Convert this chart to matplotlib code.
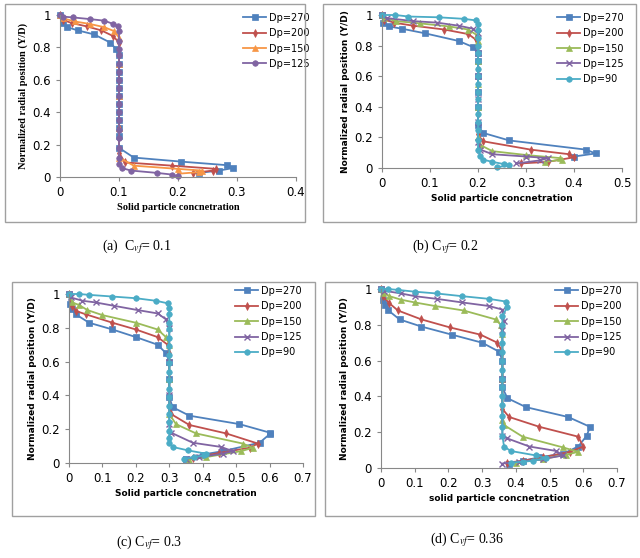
import numpy as np
import matplotlib
matplotlib.use("Agg")
import matplotlib.pyplot as plt
from matplotlib.patches import Rectangle

plt.rcParams["mathtext.fontset"] = "stix"

# Data: (x, y) pairs for each series, per panel
V = [0.75, 0.7, 0.65, 0.6, 0.55, 0.5, 0.45, 0.4, 0.35, 0.3, 0.25, 0.2]

a_270 = [(0,1),(0.005,0.95),(0.012,0.925),(0.03,0.905),(0.058,0.88),(0.085,0.83),(0.095,0.79),(0.1,0.75),(0.1,0.7),(0.1,0.65),(0.1,0.6),(0.1,0.55),(0.1,0.5),(0.1,0.45),(0.1,0.4),(0.1,0.35),(0.1,0.3),(0.1,0.25),(0.1,0.18),(0.125,0.12),(0.205,0.095),(0.283,0.073),(0.293,0.055),(0.27,0.04),(0.235,0.025)]
a_200 = [(0,1),(0.005,0.97),(0.02,0.95),(0.045,0.93),(0.07,0.905),(0.09,0.87),(0.1,0.83),(0.1,0.75),(0.1,0.6),(0.1,0.45),(0.1,0.3),(0.1,0.15),(0.11,0.09),(0.19,0.07),(0.265,0.05),(0.26,0.04),(0.225,0.025)]
a_150 = [(0,1),(0.005,0.98),(0.025,0.96),(0.05,0.945),(0.075,0.925),(0.092,0.9),(0.1,0.86),(0.1,0.7),(0.1,0.5),(0.1,0.3),(0.1,0.12),(0.125,0.07),(0.2,0.05),(0.24,0.04),(0.235,0.03),(0.2,0.02)]
a_125 = [(0,1),(0.005,0.99),(0.022,0.985),(0.05,0.975),(0.075,0.965),(0.09,0.945),(0.098,0.93),(0.1,0.9),(0.1,0.84),(0.1,0.79),(0.1,0.75),(0.1,0.7),(0.1,0.65),(0.1,0.6),(0.1,0.55),(0.1,0.5),(0.1,0.45),(0.1,0.4),(0.1,0.35),(0.1,0.29),(0.1,0.24),(0.1,0.18),(0.1,0.12),(0.1,0.08),(0.105,0.055),(0.12,0.04),(0.165,0.025),(0.19,0.015),(0.2,0.005)]

b_270 = [(0,1),(0.003,0.95),(0.015,0.925),(0.042,0.91),(0.09,0.88),(0.16,0.83),(0.19,0.79),(0.2,0.75),(0.2,0.7),(0.2,0.6),(0.2,0.5),(0.2,0.4),(0.2,0.28),(0.21,0.23),(0.265,0.18),(0.425,0.12),(0.445,0.095),(0.4,0.075)]
b_200 = [(0,1),(0.005,0.97),(0.025,0.95),(0.065,0.93),(0.13,0.905),(0.18,0.875),(0.195,0.84),(0.2,0.8),(0.2,0.65),(0.2,0.5),(0.2,0.35),(0.2,0.22),(0.21,0.175),(0.31,0.12),(0.39,0.09),(0.4,0.07),(0.345,0.04),(0.29,0.03)]
b_150 = [(0,1),(0.005,0.98),(0.03,0.96),(0.08,0.945),(0.14,0.925),(0.18,0.905),(0.197,0.87),(0.2,0.83),(0.2,0.7),(0.2,0.55),(0.2,0.4),(0.2,0.2),(0.205,0.15),(0.23,0.11),(0.3,0.085),(0.37,0.065),(0.375,0.055),(0.34,0.04)]
b_125 = [(0,1),(0.01,0.98),(0.065,0.96),(0.115,0.95),(0.16,0.93),(0.19,0.91),(0.2,0.88),(0.2,0.75),(0.2,0.6),(0.2,0.45),(0.2,0.3),(0.2,0.17),(0.205,0.12),(0.23,0.09),(0.3,0.075),(0.345,0.065),(0.33,0.05),(0.28,0.03)]
b_90 = [(0,1),(0.028,1.0),(0.055,0.99),(0.118,0.985),(0.17,0.975),(0.195,0.965),(0.2,0.94),(0.2,0.9),(0.2,0.85),(0.2,0.8),(0.2,0.75),(0.2,0.7),(0.2,0.65),(0.2,0.6),(0.2,0.55),(0.2,0.5),(0.2,0.45),(0.2,0.4),(0.2,0.35),(0.2,0.3),(0.2,0.25),(0.2,0.18),(0.2,0.12),(0.205,0.08),(0.21,0.055),(0.23,0.04),(0.255,0.025),(0.265,0.018),(0.24,0.005)]

c_270 = [(0,1),(0.003,0.94),(0.01,0.91),(0.02,0.88),(0.06,0.83),(0.13,0.79),(0.2,0.745),(0.265,0.7),(0.29,0.65),(0.3,0.6),(0.3,0.5),(0.3,0.39),(0.31,0.33),(0.36,0.28),(0.51,0.23),(0.6,0.18),(0.6,0.17),(0.57,0.12),(0.46,0.07),(0.4,0.05),(0.35,0.025)]
c_200 = [(0,1),(0.01,0.93),(0.02,0.9),(0.05,0.88),(0.13,0.83),(0.2,0.79),(0.265,0.745),(0.295,0.7),(0.3,0.65),(0.3,0.5),(0.3,0.34),(0.305,0.29),(0.36,0.225),(0.47,0.175),(0.565,0.115),(0.54,0.09),(0.45,0.06),(0.37,0.03)]
c_150 = [(0,1),(0.01,0.95),(0.03,0.935),(0.055,0.905),(0.1,0.875),(0.2,0.83),(0.265,0.79),(0.29,0.745),(0.3,0.7),(0.3,0.5),(0.3,0.29),(0.32,0.23),(0.38,0.175),(0.52,0.115),(0.55,0.09),(0.515,0.07),(0.41,0.035),(0.36,0.02)]
c_125 = [(0,1),(0.005,0.98),(0.04,0.96),(0.08,0.95),(0.135,0.93),(0.205,0.905),(0.265,0.885),(0.29,0.85),(0.3,0.8),(0.3,0.6),(0.3,0.4),(0.3,0.23),(0.305,0.18),(0.37,0.12),(0.455,0.095),(0.49,0.07),(0.46,0.055),(0.39,0.035),(0.35,0.025)]
c_90 = [(0,1),(0.03,1.0),(0.06,0.995),(0.13,0.985),(0.2,0.975),(0.26,0.96),(0.295,0.945),(0.3,0.92),(0.3,0.88),(0.3,0.83),(0.3,0.79),(0.3,0.74),(0.3,0.69),(0.3,0.64),(0.3,0.59),(0.3,0.54),(0.3,0.49),(0.3,0.44),(0.3,0.39),(0.3,0.34),(0.3,0.29),(0.3,0.24),(0.3,0.19),(0.3,0.15),(0.3,0.12),(0.31,0.095),(0.355,0.075),(0.41,0.055),(0.405,0.045),(0.375,0.035),(0.345,0.025)]

d_270 = [(0,1),(0.005,0.94),(0.012,0.91),(0.022,0.88),(0.055,0.83),(0.12,0.79),(0.21,0.745),(0.3,0.7),(0.35,0.65),(0.36,0.6),(0.36,0.5),(0.36,0.45),(0.375,0.39),(0.43,0.34),(0.555,0.285),(0.62,0.23),(0.61,0.18),(0.585,0.12),(0.54,0.08),(0.47,0.06),(0.42,0.04),(0.38,0.025)]
d_200 = [(0,1),(0.005,0.96),(0.025,0.92),(0.05,0.88),(0.12,0.83),(0.205,0.785),(0.295,0.745),(0.345,0.7),(0.36,0.65),(0.36,0.5),(0.36,0.33),(0.38,0.285),(0.47,0.23),(0.585,0.175),(0.6,0.12),(0.56,0.09),(0.48,0.06),(0.42,0.04),(0.375,0.03)]
d_150 = [(0,1),(0.005,0.98),(0.025,0.96),(0.06,0.94),(0.1,0.925),(0.16,0.905),(0.245,0.88),(0.34,0.83),(0.355,0.8),(0.36,0.75),(0.36,0.5),(0.36,0.27),(0.365,0.24),(0.42,0.175),(0.54,0.115),(0.585,0.09),(0.55,0.075),(0.48,0.05),(0.4,0.03)]
d_125 = [(0,1),(0.01,0.99),(0.06,0.975),(0.1,0.96),(0.165,0.945),(0.24,0.925),(0.32,0.905),(0.36,0.885),(0.365,0.82),(0.36,0.77),(0.36,0.5),(0.36,0.18),(0.375,0.165),(0.44,0.12),(0.52,0.095),(0.54,0.07),(0.48,0.05),(0.41,0.035),(0.36,0.025)]
d_90 = [(0,1),(0.02,1.0),(0.05,0.995),(0.1,0.985),(0.165,0.975),(0.24,0.96),(0.32,0.945),(0.37,0.93),(0.375,0.9),(0.36,0.85),(0.36,0.8),(0.36,0.75),(0.36,0.7),(0.36,0.65),(0.36,0.6),(0.36,0.55),(0.36,0.5),(0.36,0.45),(0.36,0.4),(0.36,0.35),(0.36,0.29),(0.36,0.23),(0.36,0.18),(0.365,0.12),(0.385,0.095),(0.46,0.07),(0.49,0.055),(0.45,0.04),(0.42,0.035),(0.385,0.03)]

labels = ["Dp=270", "Dp=200", "Dp=150", "Dp=125", "Dp=90"]
colours = ["#4F81BD", "#C0504D", "#9BBB59", "#8064A2", "#4BACC6"]
markers = ["s", "d", "^", "x", "o"]

W, H = 640, 558
fig = plt.figure(figsize=(W / 100, H / 100), dpi=100)

def px_axes(x0, y0, x1, y1):
    return fig.add_axes([x0 / W, 1 - y1 / H, (x1 - x0) / W, (y1 - y0) / H])

def frame(x0, y0, x1, y1):
    fig.patches.append(Rectangle((x0 / W, 1 - y1 / H), (x1 - x0) / W, (y1 - y0) / H,
                                 transform=fig.transFigure, fill=False, ec="#a0a0a0", lw=1))

panels = [
    dict(series=[a_270, a_200, a_150, a_125], cols=[colours[0], colours[1], "#F79646", colours[3]],
         mk=["s", "d", "^", "o"], box=(60, 15, 296, 177), frame=(5, 4, 305, 222), xmax=0.4, xstep=0.1,
         xlabel="Solid particle concnetration", serif=True, leg=(238, 8), cap="(a)  C$_{vf}$= 0.1", capxy=(102, 247)),
    dict(series=[b_270, b_200, b_150, b_125, b_90], cols=colours, mk=markers,
         box=(382, 15, 622, 168), frame=(323, 4, 636, 222), xmax=0.5, xstep=0.1,
         xlabel="Solid particle concnetration", serif=False, leg=(552, 8), cap="(b) C$_{vf}$= 0.2", capxy=(412, 247)),
    dict(series=[c_270, c_200, c_150, c_125, c_90], cols=colours, mk=markers,
         box=(69, 294, 303, 463), frame=(12, 282, 315, 516), xmax=0.7, xstep=0.1,
         xlabel="Solid particle concnetration", serif=False, leg=(230, 281), cap="(c) C$_{vf}$= 0.3", capxy=(116, 543)),
    dict(series=[d_270, d_200, d_150, d_125, d_90], cols=colours, mk=markers,
         box=(381, 289, 617, 468), frame=(325, 282, 637, 516), xmax=0.7, xstep=0.1,
         xlabel="solid particle concnetration", serif=False, leg=(550, 281), cap="(d) C$_{vf}$= 0.36", capxy=(430, 540)),
]

for p in panels:
    frame(*p["frame"])
    ax = px_axes(*p["box"])
    for i, s in enumerate(p["series"]):
        pts = np.array(s)
        m = p["mk"][i]
        ax.plot(pts[:, 0], pts[:, 1], "-", marker=m, color=p["cols"][i], lw=1.3,
                ms=4 if m != "x" else 4.5, mew=1 if m == "x" else 0.5, label=labels[i], clip_on=False)
    ax.set_xlim(0, p["xmax"])
    ax.set_ylim(0, 1)
    ax.set_xticks(np.round(np.arange(0, p["xmax"] + 1e-9, p["xstep"]), 1))
    ax.set_xticklabels([("%g" % v) for v in np.round(np.arange(0, p["xmax"] + 1e-9, p["xstep"]), 1)])
    ax.set_yticks(np.arange(0, 1.01, 0.2))
    ax.set_yticklabels(["0", "0.2", "0.4", "0.6", "0.8", "1"])
    ax.tick_params(labelsize=8.5, length=3, color="#888888", direction="out")
    for sp in ["top", "right"]:
        ax.spines[sp].set_visible(False)
    for sp in ["left", "bottom"]:
        ax.spines[sp].set_color("#888888")
    fam = "Liberation Serif" if p["serif"] else "DejaVu Sans"
    ax.set_xlabel(p["xlabel"], fontsize=6.5 if not p["serif"] else 7.5, fontweight="bold", family=fam, labelpad=3)
    ax.set_ylabel("Normalized radial position (Y/D)", fontsize=6.5 if not p["serif"] else 7.5,
                  fontweight="bold", family=fam, labelpad=3)
    lx, ly = p["leg"]
    ax.legend(loc="upper left", bbox_to_anchor=(lx / W, 1 - ly / H), bbox_transform=fig.transFigure,
              frameon=False, fontsize=7, handlelength=2.4, labelspacing=0.55, handletextpad=0.3, borderpad=0)
    cx, cy = p["capxy"]
    fig.text(cx / W, 1 - cy / H, p["cap"], fontsize=10, family="Liberation Serif", va="center")

fig.savefig("out.png", dpi=100)
